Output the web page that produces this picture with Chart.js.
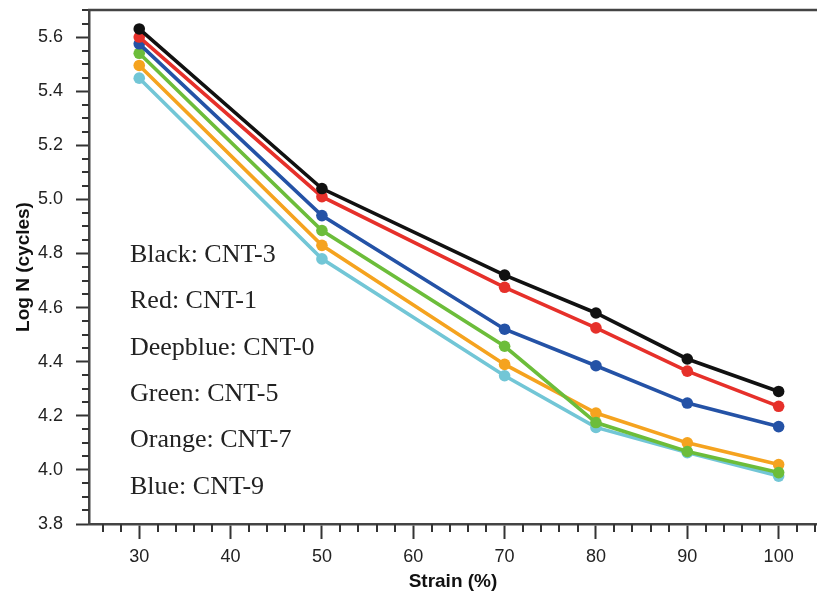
<!DOCTYPE html>
<html>
<head>
<meta charset="utf-8">
<script src="https://cdn.jsdelivr.net/npm/chart.js@4.4.1/dist/chart.umd.min.js"></script>
<style>
  html, body { margin: 0; padding: 0; background: #fff; }
  #wrap { width: 817px; height: 594px; }
</style>
</head>
<body>
<div id="wrap"><canvas id="fatigueChart" width="817" height="594"></canvas></div>
<script>
// Fatigue life vs strain for the CNT samples
const strain = [30, 50, 70, 80, 90, 100];
const cnt3 = [5.63, 5.04, 4.72, 4.58, 4.41, 4.29];
const cnt1 = [5.60, 5.01, 4.675, 4.525, 4.365, 4.235];
const cnt0 = [5.575, 4.94, 4.52, 4.385, 4.247, 4.16];
const cnt5 = [5.54, 4.885, 4.457, 4.175, 4.068, 3.99];
const cnt7 = [5.495, 4.83, 4.39, 4.21, 4.10, 4.02];
const cnt9 = [5.448, 4.78, 4.348, 4.157, 4.064, 3.977];

const seriesNames = ['CNT-3', 'CNT-1', 'CNT-0', 'CNT-5', 'CNT-7', 'CNT-9'];
const legendLabels = ['Black: CNT-3', 'Red: CNT-1', 'Deepblue: CNT-0', 'Green: CNT-5', 'Orange: CNT-7', 'Blue: CNT-9'];
const colors = ['#111111', '#e6302a', '#2452a6', '#6cbd3a', '#f5a31f', '#72c6d6'];

const xTicksMajor = 10, xTicksMinor = 2;
const yTicksMajor = 0.2, yTicksMinor = 0.05;

const toPoints = (ys) => ys.map((y, i) => ({ x: strain[i], y: y }));
const allSeries = [cnt3, cnt1, cnt0, cnt5, cnt7, cnt9];

const sansFont = "'Liberation Sans', Arial, sans-serif";

// drop the label overflow padding so the plot box sits where the reference has it
const noPad = (scale) => {
  scale.paddingTop = 0;
  scale.paddingBottom = 0;
  scale.paddingLeft = 0;
  scale.paddingRight = 0;
};

// minor ticks, top frame line and the text legend
const decorations = {
  id: 'decorations',
  afterDraw(chart) {
    const { ctx, chartArea, scales } = chart;
    const xs = scales.x, ys = scales.y;
    ctx.save();
    ctx.strokeStyle = '#333';
    ctx.lineWidth = 2;
    ctx.beginPath();
    for (let v = Math.ceil(xs.min / xTicksMinor) * xTicksMinor; v <= xs.max; v += xTicksMinor) {
      if (v % xTicksMajor === 0) continue;
      const px = Math.round(xs.getPixelForValue(v));
      ctx.moveTo(px, chartArea.bottom);
      ctx.lineTo(px, chartArea.bottom + 8);
    }
    for (let k = Math.round(ys.min / yTicksMinor); k * yTicksMinor <= ys.max + 1e-9; k++) {
      if (k % 4 === 0) continue;
      const py = Math.round(ys.getPixelForValue(k * yTicksMinor));
      ctx.moveTo(chartArea.left - 7, py);
      ctx.lineTo(chartArea.left, py);
    }
    ctx.stroke();

    // top frame
    ctx.strokeStyle = '#444';
    ctx.lineWidth = 2.5;
    ctx.beginPath();
    ctx.moveTo(chartArea.left - 1, chartArea.top);
    ctx.lineTo(chartArea.right, chartArea.top);
    ctx.stroke();

    // legend text
    ctx.fillStyle = '#222';
    ctx.font = "26px 'Liberation Serif', 'Times New Roman', serif";
    ctx.textAlign = 'left';
    ctx.textBaseline = 'middle';
    legendLabels.forEach((txt, i) => {
      ctx.fillText(txt, 130, 255 + i * 46.4);
    });
    ctx.restore();
  }
};

new Chart(document.getElementById('fatigueChart'), {
  type: 'line',
  data: {
    datasets: allSeries.map((ys, i) => ({
      label: seriesNames[i],
      data: toPoints(ys),
      borderColor: colors[i],
      backgroundColor: colors[i],
      borderWidth: 3.6,
      pointRadius: 5.8,
      pointBorderWidth: 0,
      tension: 0,
      fill: false
    }))
  },
  options: {
    responsive: false,
    animation: false,
    layout: { autoPadding: false, padding: { top: 10, right: 0, left: 0, bottom: 0 } },
    plugins: {
      legend: { display: false },
      tooltip: { enabled: false }
    },
    scales: {
      x: {
        type: 'linear',
        min: 24.5,
        max: 104.2,
        afterFit: (scale) => { scale.height = 70; noPad(scale); },
        grid: { drawOnChartArea: false, tickLength: 15, tickWidth: 2, tickColor: '#333' },
        border: { color: '#444', width: 2.5 },
        ticks: {
          stepSize: xTicksMajor,
          includeBounds: false,
          padding: 7,
          color: '#222',
          font: { family: sansFont, size: 18 },
          maxRotation: 0
        },
        title: {
          display: true,
          text: 'Strain (%)',
          color: '#111',
          font: { family: sansFont, size: 19, weight: 'bold' },
          padding: { top: 0, bottom: 1 }
        }
      },
      y: {
        min: 3.8,
        max: 5.7,
        afterFit: (scale) => { scale.width = 89; noPad(scale); },
        grid: { drawOnChartArea: false, tickLength: 13, tickWidth: 2, tickColor: '#333' },
        border: { color: '#444', width: 2.5 },
        ticks: {
          stepSize: yTicksMajor,
          includeBounds: false,
          padding: 13,
          color: '#222',
          font: { family: sansFont, size: 18 },
          callback: (v) => v.toFixed(1)
        },
        title: {
          display: true,
          text: 'Log N (cycles)',
          color: '#111',
          font: { family: sansFont, size: 19, weight: 'bold' },
          padding: { top: 12, bottom: 0 }
        }
      }
    }
  },
  plugins: [decorations]
});
</script>
</body>
</html>
